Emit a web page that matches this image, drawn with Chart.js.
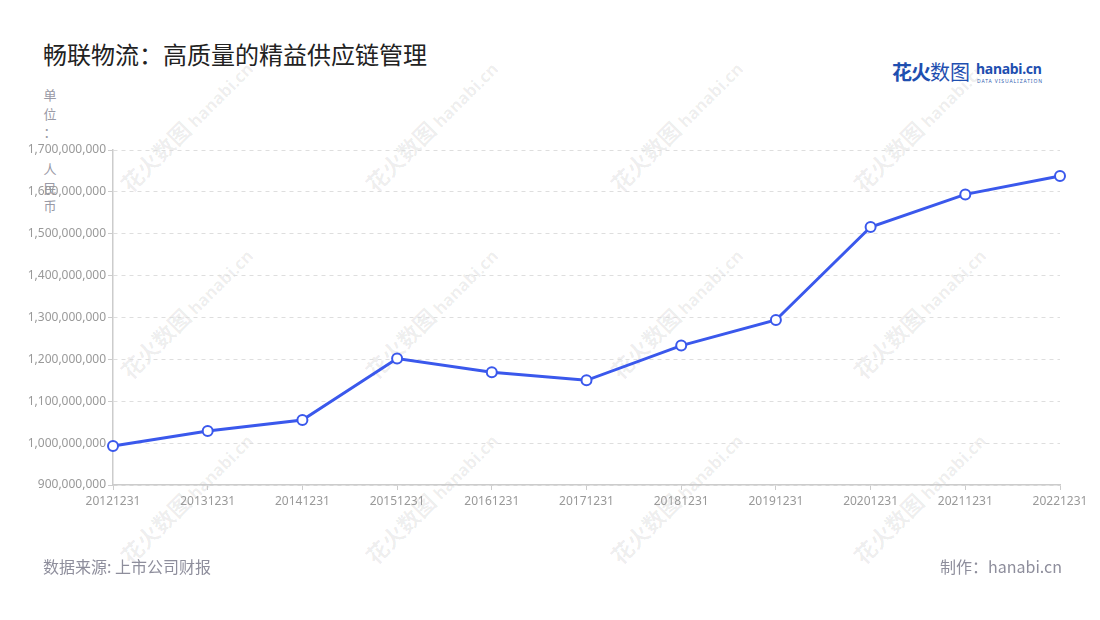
<!DOCTYPE html>
<html>
<head>
<meta charset="utf-8">
<title>畅联物流：高质量的精益供应链管理</title>
<script src="https://cdn.jsdelivr.net/npm/chart.js@4/dist/chart.umd.min.js"></script>
<style>
  html, body { margin: 0; padding: 0; background: #fff; }
  body { width: 1100px; height: 620px; position: relative; overflow: hidden;
         font-family: "Noto Sans CJK SC", "Noto Sans", sans-serif; }
  #title { position: absolute; left: 43px; top: 36px; font-size: 24px; color: #222; }
  #unit { position: absolute; left: 42px; top: 86px; width: 16px; font-size: 13px;
          line-height: 18.5px; color: #999aa6; text-align: center; }
  #source { position: absolute; left: 43px; top: 554px; font-size: 16px; color: #8e8e9c; }
  #maker { position: absolute; right: 38px; top: 554px; font-size: 16px; color: #8e8e9c; }
  #logo { position: absolute; left: 892px; top: 57px; color: #1f4fb0; white-space: nowrap; }
  #logo .cn { font-size: 20px; letter-spacing: 0px; }
  #logo .cn b { letter-spacing: -1px; }
  #logo .en { position: absolute; left: 84px; top: 2px; font-size: 14px; font-weight: bold;
              font-family: "Noto Sans", sans-serif; letter-spacing: -0.3px; }
  #logo .sub { position: absolute; left: 85px; top: 21px; font-size: 5px; letter-spacing: 0.9px;
               font-family: "Noto Sans", sans-serif; color: #3060b0; }
  .wm { position: absolute; transform: rotate(-45deg); transform-origin: center;
        color: rgba(0,0,0,0.07); font-size: 22px; font-weight: bold; white-space: nowrap; }
  .wm span { font-family: "Noto Sans", sans-serif; font-size: 17px; margin-left: 4px; }
  #container { position: absolute; left: 0; top: 0; width: 1100px; height: 620px; }
</style>
</head>
<body>
<div id="wms"></div>
<div id="title">畅联物流：高质量的精益供应链管理</div>
<div id="unit">单<br>位<br>：<br>&nbsp;<br>人<br>民<br>币</div>
<div id="logo"><span class="cn"><b>花火</b>数图</span><span class="en">hanabi.cn</span><span class="sub">DATA VISUALIZATION</span></div>
<div id="container"><canvas id="canvas"></canvas></div>
<div id="source">数据来源: 上市公司财报</div>
<div id="maker">制作：hanabi.cn</div>
<script>

// data
var years = ['20121231', '20131231', '20141231', '20151231', '20161231', '20171231',
             '20181231', '20191231', '20201231', '20211231', '20221231'];
var revenue = [993000000, 1029000000, 1055000000, 1202000000, 1169000000, 1150000000,
               1233000000, 1294000000, 1516000000, 1594000000, 1638000000];
var yMin = 900000000;
var yMax = 1700000000;
var yStep = 100000000;

// watermarks behind the chart
var wmX = [185, 430, 675, 918];
var wmY = [125, 312, 497];
var wms = document.getElementById('wms');
for (var i in wmY) {
  for (var j in wmX) {
    var d = document.createElement('div');
    d.className = 'wm';
    d.innerHTML = '花火数图<span>hanabi.cn</span>';
    wms.appendChild(d);
    d.style.left = (wmX[j] - d.offsetWidth / 2) + 'px';
    d.style.top = (wmY[i] - d.offsetHeight / 2) + 'px';
  }
}

var lineColor = '#3a58ec';
var axisColor = '#cccccc';
var labelColor = '#999999';

var ctx = document.getElementById('canvas').getContext('2d');
var chart = new Chart(ctx, {
  type: 'line',
  data: {
    labels: years,
    datasets: [{
      label: '营业收入',
      data: revenue,
      borderColor: lineColor,
      borderWidth: 3,
      pointRadius: 5,
      pointHoverRadius: 5,
      pointBackgroundColor: '#ffffff',
      pointBorderColor: lineColor,
      pointBorderWidth: 2,
      tension: 0,
      fill: false
    }]
  },
  options: {
    responsive: true,
    maintainAspectRatio: false,
    animation: false,
    layout: { padding: { top: 150, right: 40, bottom: 105, left: 0 } },
    plugins: {
      legend: { display: false },
      title: { display: false },
      tooltip: { enabled: false }
    },
    scales: {
      x: {
        offset: false,
        afterFit: function(s) { s.height = 30; },
        border: { color: axisColor, width: 1.5 },
        grid: { drawOnChartArea: false, tickLength: 5, tickColor: axisColor, offset: false },
        ticks: { color: labelColor, font: { size: 12, family: "'Noto Sans', sans-serif" },
                 padding: 4, maxRotation: 0, autoSkip: false }
      },
      y: {
        min: yMin,
        max: yMax,
        afterFit: function(s) { s.width = 113; },
        border: { color: axisColor, width: 1.5, dash: [4, 4] },
        grid: { color: '#dedede', tickLength: 5, tickColor: axisColor, tickBorderDash: [] },
        ticks: {
          stepSize: yStep,
          color: labelColor,
          padding: 2,
          font: { size: 12, family: "'Noto Sans', sans-serif" },
          callback: function(v) { return v.toLocaleString('en-US'); }
        }
      }
    }
  }
});

</script>
</body>
</html>
